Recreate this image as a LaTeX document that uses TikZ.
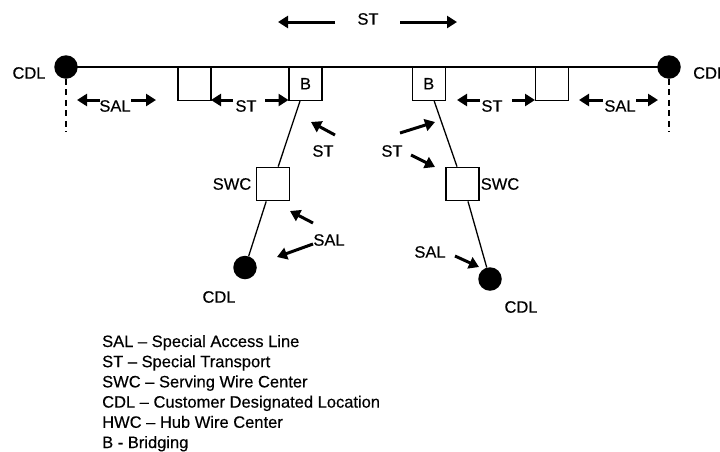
\documentclass[tikz,border=0pt]{standalone}
\usepackage{fontspec}
\setmainfont{Liberation Sans}[UprightFeatures={FakeBold=0.35}]
\usetikzlibrary{arrows.meta,calc}
\begin{document}
\begin{tikzpicture}[x=1pt,y=-1pt,
  every node/.style={font=\fontsize{16.5}{20}\selectfont, inner sep=0pt},
  site/.style={circle, fill=black, minimum size=23.5pt},
  sitebox/.style={draw, line width=1.3pt, fill=white, minimum width=33pt, minimum height=33.5pt},
  wire/.style={line width=1.3pt},
  dashwire/.style={line width=2.6pt, dash pattern=on 6pt off 4.5pt},
  pointer/.style={line width=3pt, -{Triangle[length=10pt,width=12pt]}}]
\useasboundingbox (0,0) rectangle (720,451);

% main line and end sites
\node[site] (cdlL) at (66,67) {};
\node[site] (cdlR) at (669,67) {};
\draw[wire] (cdlL.center) -- (cdlR.center);
\coordinate (dL) at (66,132);
\coordinate (dR) at (669,132);
\draw[dashwire] (cdlL.south) -- (dL);
\draw[dashwire] (cdlR.south) -- (dR);

% boxes on main line
\node[sitebox] (box1) at (194.5,83.7) {};
\node[sitebox] (bL) at (305.5,83.7) {B};
\node[sitebox] (bR) at (428.7,83.7) {B};
\node[sitebox] (box4) at (552,83.7) {};

% serving wire centers
\node[sitebox] (swcL) at (272.7,184) {};
\node[sitebox] (swcR) at (462.5,184) {};
\node[site] (cdlBL) at (245,267.5) {};
\node[site] (cdlBR) at (490,279) {};

\draw[wire] ($(bL.south)+(-5.5,0)$) -- ($(swcL.north)+(5.5,0)$);
\draw[wire] ($(swcL.south)+(-6.5,0)$) -- (cdlBL);
\draw[wire] ($(bR.south)+(5.5,0)$) -- ($(swcR.north)+(-5.5,0)$);
\draw[wire] ($(swcR.south)+(5.5,0)$) -- (cdlBR);

% labels
\node (tCDLL) at (29,73) {CDL};
\node[anchor=west] (tCDLR) at (693,73) {CDL};
\node (tSTtop) at (368,19) {ST};
\draw[pointer] (335,22) -- (278,22);
\draw[pointer] (400,22) -- (457,22);

\node (tSAL1) at (115,106) {SAL};
\draw[pointer] (100,100) -- (77,100);
\draw[pointer] (131,100) -- (156,100);

\node (tST1) at (246,106) {ST};
\draw[pointer] (233,100) -- (211,100);
\draw[pointer] (265,100) -- (288.5,100);

\node (tST2) at (492,106) {ST};
\draw[pointer] (480,100) -- (457,100);
\draw[pointer] (512,100) -- (535,100);

\node (tSAL2) at (620,106) {SAL};
\draw[pointer] (603,100) -- (579,100);
\draw[pointer] (636,100) -- (658,100);

\node (tST3) at (323,151) {ST};
\draw[pointer] (335,135) -- (311,122);
\node (tST4) at (392,151) {ST};
\draw[pointer] (400,133) -- (435,122);
\draw[pointer] (411,155) -- (435,167);

\node (tSAL3) at (329,240) {SAL};
\draw[pointer] (313,223) -- (290,211);
\draw[pointer] (313,244) -- (277,257);
\node (tSAL4) at (430,252) {SAL};
\draw[pointer] (455,256) -- (479,267);

\node (tSWCL) at (232,184) {SWC};
\node (tSWCR) at (500,184) {SWC};
\node (tCDLBL) at (219,297) {CDL};
\node (tCDLBR) at (521,307) {CDL};

% legend
\node[anchor=base west] (lg1) at (102,347) {SAL – Special Access Line};
\node[anchor=base west] (lg2) at (102,367.2) {ST – Special Transport};
\node[anchor=base west] (lg3) at (102,387.4) {SWC – Serving Wire Center};
\node[anchor=base west] (lg4) at (102,407.6) {CDL – Customer Designated Location};
\node[anchor=base west] (lg5) at (102,427.8) {HWC – Hub Wire Center};
\node[anchor=base west] (lg6) at (102,448) {B - Bridging};
\end{tikzpicture}
\end{document}
